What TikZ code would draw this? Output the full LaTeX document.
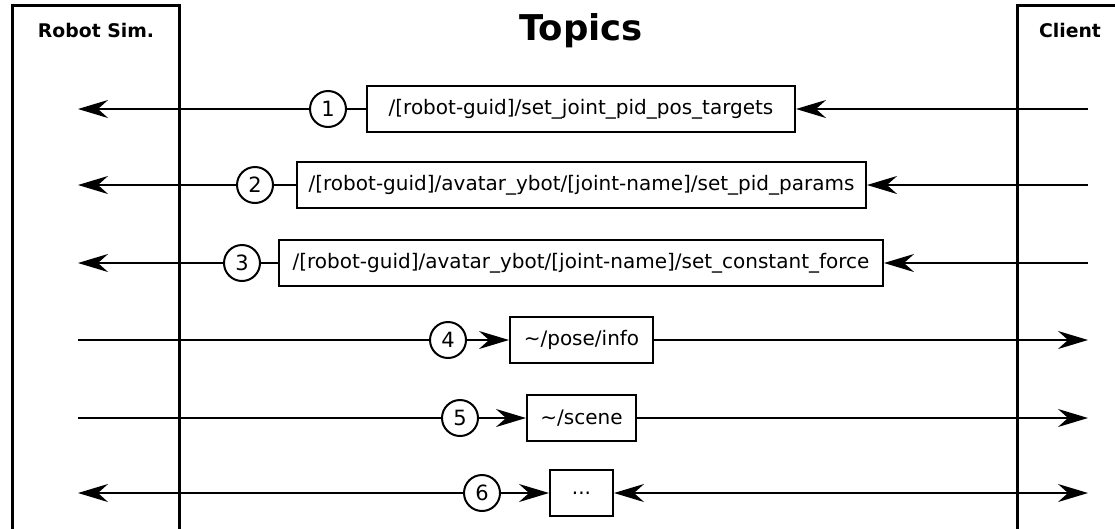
\documentclass[tikz,border=0pt]{standalone}
\usepackage{fontspec}
\setmainfont{DejaVu Sans}
\usetikzlibrary{arrows.meta}
\begin{document}
\begin{tikzpicture}[x=1pt,y=-1pt,
  lane/.style={line width=3pt},
  title/.style={font=\fontsize{18.8}{22}\selectfont\bfseries, anchor=center},
  topic/.style={draw, line width=2pt, minimum height=46pt, inner sep=0pt,
                font=\fontsize{20}{24}\selectfont},
  num/.style={draw, circle, line width=2pt, minimum size=36pt, inner sep=0pt,
              font=\fontsize{21}{24}\selectfont},
  conn/.style={line width=2pt},
  tip/.tip={Stealth[length=30pt, width=18pt, inset=10pt]},
  arr/.style={conn, -tip},
  biarr/.style={conn, tip-tip}]
\useasboundingbox (0,0) rectangle (1115,528);

% swimlane frames
\draw[lane] (12,530) -- (12,5) -- (179,5) -- (179,530);
\draw[lane] (1017,530) -- (1017,5) -- (1117,5);

% headings
\node[title] (sim) at (96,30) {Robot Sim.};
\node[title] (client) at (1070,30) {Client};
\node[title, font=\fontsize{35.5}{40}\selectfont\bfseries] (topics) at (581,31) {Topics};

% topic boxes
\node[topic, minimum width=428pt] (t1) at (581,109) {/[robot-guid]/set\_joint\_pid\_pos\_targets};
\node[topic, minimum width=569pt] (t2) at (581.5,185) {/[robot-guid]/avatar\_ybot/[joint-name]/set\_pid\_params};
\node[topic, minimum width=604pt] (t3) at (581,263) {/[robot-guid]/avatar\_ybot/[joint-name]/set\_constant\_force};
\node[topic, minimum width=143pt] (t4) at (581.5,340) {\textasciitilde/pose/info};
\node[topic, minimum width=109pt] (t5) at (581.5,418) {\textasciitilde/scene};
\node[topic, minimum width=63pt] (t6) at (581.5,493) {...};

% numbered markers
\node[num] (c1) at (328,109) {1};
\node[num] (c2) at (255,185) {2};
\node[num] (c3) at (242,263) {3};
\node[num] (c4) at (448,340) {4};
\node[num] (c5) at (460,418) {5};
\node[num] (c6) at (482,493) {6};

% connector ends inside the lanes
\coordinate (L1) at (78,109);  \coordinate (R1) at (1088,109);
\coordinate (L2) at (78,185);  \coordinate (R2) at (1088,185);
\coordinate (L3) at (78,263);  \coordinate (R3) at (1088,263);
\coordinate (L4) at (78,340);  \coordinate (R4) at (1088,340);
\coordinate (L5) at (78,418);  \coordinate (R5) at (1088,418);
\coordinate (L6) at (78,493);  \coordinate (R6) at (1088,493);

% client -> simulator topics
\foreach \i in {1,2,3}{
  \draw[arr] (c\i) -- (L\i);
  \draw[conn] (c\i) -- (t\i);
  \draw[arr] (R\i) -- (t\i);
}
% simulator -> client topics
\foreach \i in {4,5}{
  \draw[conn] (L\i) -- (c\i);
  \draw[arr] (c\i) -- (t\i);
  \draw[arr] (t\i) -- (R\i);
}
% bidirectional
\draw[arr] (c6) -- (L6);
\draw[arr] (c6) -- (t6);
\draw[biarr] (t6) -- (R6);
\end{tikzpicture}
\end{document}
